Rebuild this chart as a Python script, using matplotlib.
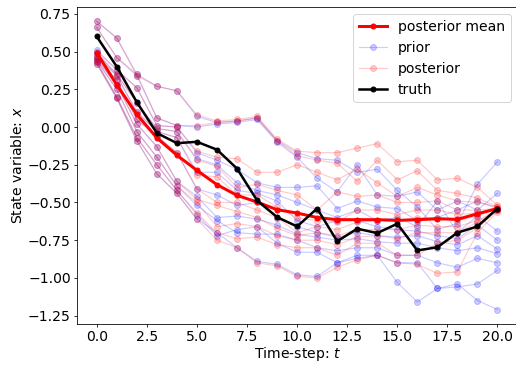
import numpy as np
import matplotlib
matplotlib.use("Agg")
import matplotlib.pyplot as plt

t = np.arange(21)

truth = [0.60, 0.40, 0.165, -0.04, -0.107, -0.098, -0.15, -0.275, -0.486, -0.597, -0.659,
         -0.54, -0.757, -0.674, -0.703, -0.641, -0.818, -0.797, -0.70, -0.659, -0.54]

post_mean = [0.493, 0.279, 0.084, -0.072, -0.187, -0.287, -0.382, -0.453, -0.497, -0.548, -0.570,
             -0.600, -0.614, -0.614, -0.614, -0.619, -0.614, -0.608, -0.612, -0.575, -0.54]

prior = [
    [0.70, 0.59, 0.35, 0.27, 0.24, 0.07, 0.03, 0.04, 0.06, -0.09, -0.17, -0.21, -0.22, -0.30, -0.28, -0.42, -0.53, -0.68, -0.64, -0.38, -0.23],
    [0.66, 0.46, 0.34, 0.06, 0.01, 0.00, 0.02, 0.03, 0.05, -0.10, -0.20, -0.34, -0.43, -0.25, -0.45, -0.46, -0.43, -0.55, -0.49, -0.55, -0.44],
    [0.51, 0.38, 0.26, 0.01, 0.00, -0.17, -0.22, -0.28, -0.37, -0.40, -0.40, -0.39, -0.54, -0.49, -0.53, -0.54, -0.62, -0.60, -0.55, -0.49, -0.54],
    [0.49, 0.35, 0.16, -0.01, -0.03, -0.21, -0.25, -0.37, -0.42, -0.45, -0.50, -0.55, -0.60, -0.55, -0.62, -0.60, -0.66, -0.49, -0.70, -0.59, -0.69],
    [0.47, 0.34, 0.10, -0.03, -0.07, -0.30, -0.30, -0.42, -0.44, -0.49, -0.62, -0.66, -0.62, -0.62, -0.66, -0.68, -0.69, -0.72, -0.74, -0.65, -0.75],
    [0.46, 0.31, 0.05, -0.06, -0.17, -0.41, -0.45, -0.52, -0.50, -0.60, -0.66, -0.70, -0.73, -0.70, -0.72, -0.73, -0.72, -0.76, -0.78, -0.72, -0.81],
    [0.45, 0.28, 0.02, -0.13, -0.36, -0.46, -0.60, -0.59, -0.61, -0.65, -0.71, -0.73, -0.75, -0.74, -0.76, -0.77, -0.77, -0.80, -0.82, -0.80, -0.84],
    [0.44, 0.25, -0.03, -0.20, -0.39, -0.52, -0.62, -0.70, -0.71, -0.71, -0.75, -0.80, -0.82, -0.80, -0.80, -0.85, -0.85, -0.90, -0.93, -0.87, -0.90],
    [0.43, 0.20, -0.07, -0.25, -0.42, -0.58, -0.72, -0.68, -0.66, -0.77, -0.83, -0.83, -0.90, -0.85, -0.85, -0.90, -0.90, -1.07, -1.06, -1.04, -0.95],
    [0.42, 0.19, -0.09, -0.31, -0.44, -0.61, -0.70, -0.80, -0.89, -0.91, -0.98, -0.99, -0.90, -0.87, -0.85, -1.03, -1.16, -1.07, -1.04, -1.15, -1.21],
]

posterior = [
    [0.70, 0.59, 0.34, 0.27, 0.24, 0.08, 0.04, 0.05, 0.07, -0.08, -0.16, -0.17, -0.17, -0.14, -0.11, -0.23, -0.22, -0.35, -0.34, -0.40, -0.52],
    [0.66, 0.46, 0.35, 0.06, 0.01, 0.01, 0.03, 0.04, 0.06, -0.09, -0.19, -0.22, -0.24, -0.36, -0.22, -0.35, -0.29, -0.42, -0.44, -0.47, -0.53],
    [0.50, 0.38, 0.26, 0.01, 0.00, -0.16, -0.20, -0.21, -0.30, -0.30, -0.25, -0.30, -0.35, -0.28, -0.37, -0.46, -0.40, -0.45, -0.49, -0.50, -0.53],
    [0.49, 0.35, 0.16, -0.01, -0.03, -0.22, -0.26, -0.40, -0.38, -0.42, -0.45, -0.55, -0.43, -0.46, -0.45, -0.50, -0.50, -0.49, -0.55, -0.55, -0.54],
    [0.47, 0.34, 0.10, -0.03, -0.07, -0.32, -0.33, -0.45, -0.45, -0.53, -0.60, -0.62, -0.63, -0.55, -0.55, -0.58, -0.55, -0.55, -0.58, -0.57, -0.54],
    [0.46, 0.31, 0.05, -0.06, -0.17, -0.41, -0.50, -0.50, -0.55, -0.60, -0.70, -0.66, -0.68, -0.63, -0.62, -0.62, -0.60, -0.60, -0.62, -0.59, -0.54],
    [0.45, 0.28, 0.02, -0.13, -0.36, -0.48, -0.52, -0.56, -0.60, -0.67, -0.72, -0.70, -0.72, -0.68, -0.68, -0.68, -0.65, -0.66, -0.66, -0.62, -0.55],
    [0.44, 0.25, -0.03, -0.20, -0.39, -0.50, -0.66, -0.64, -0.66, -0.72, -0.75, -0.75, -0.78, -0.73, -0.72, -0.74, -0.70, -0.70, -0.70, -0.63, -0.55],
    [0.43, 0.20, -0.07, -0.25, -0.42, -0.57, -0.70, -0.74, -0.73, -0.78, -0.80, -0.80, -0.85, -0.77, -0.77, -0.85, -0.85, -0.77, -0.75, -0.67, -0.55],
    [0.42, 0.19, -0.09, -0.31, -0.44, -0.61, -0.75, -0.80, -0.90, -0.92, -0.99, -1.00, -0.93, -0.88, -0.85, -0.90, -0.91, -0.97, -0.96, -0.70, -0.56],
]

plt.rcParams['font.size'] = 14
DPI = 72
fig = plt.figure(figsize=(516 / DPI, 365 / DPI), dpi=DPI)
ax = fig.add_axes([76.7 / 516, 41 / 365, (517.5 - 76.7) / 516, (358 - 41) / 365])

h_prior = None
for tr in prior:
    h_prior, = ax.plot(t, tr, color='b', marker='o', ms=6, lw=1.2, alpha=0.2)
h_post = None
for tr in posterior:
    h_post, = ax.plot(t, tr, color='r', marker='o', ms=6, lw=1.2, alpha=0.2)

h_mean, = ax.plot(t, post_mean, color='r', marker='o', ms=5, lw=3)
h_truth, = ax.plot(t, truth, color='k', marker='o', ms=5, lw=2.5)

ax.legend([h_mean, h_prior, h_post, h_truth], ['posterior mean', 'prior', 'posterior', 'truth'],
          loc='upper right')
ax.set_xlabel('Time-step: $t$', labelpad=1)
ax.set_ylabel('State variable: $x$', labelpad=3)
ax.tick_params(axis='both', length=3, pad=3)
ax.spines['right'].set_visible(False)
ax.set_xticks([0, 2.5, 5, 7.5, 10, 12.5, 15, 17.5, 20])

fig.savefig('out.png', dpi=DPI)
